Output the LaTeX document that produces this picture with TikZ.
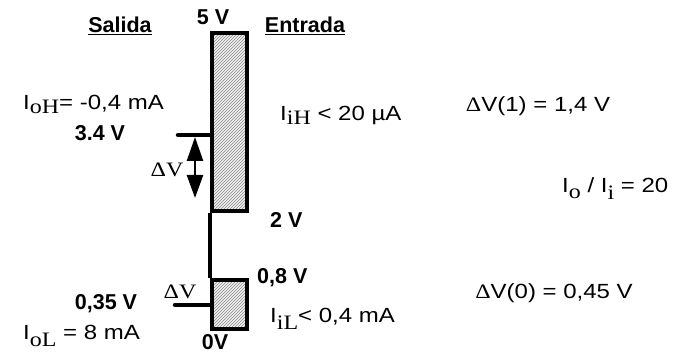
\documentclass[tikz,border=0pt]{standalone}
\usepackage{fontspec}
\setmainfont{Liberation Sans}
\newfontfamily\tms{Liberation Serif}
\usetikzlibrary{arrows.meta,patterns}
\newcommand\sub[2]{\raisebox{-#1pt}{\tms #2}}
\begin{document}
\begin{tikzpicture}[x=1pt,y=1pt,
  bar/.style={draw,line width=4pt,preaction={fill=gray!12},pattern=north east lines,pattern color=gray!90,inner sep=0pt,minimum width=35pt},
  wire/.style={line width=4pt},
  stub/.style={line width=4.5pt,line cap=round},
  txt/.style={inner sep=0pt,font=\fontsize{20.5}{24}\selectfont,xscale=1.17,transform shape},
  btxt/.style={inner sep=0pt,font=\fontsize{21.5}{25}\selectfont\bfseries}]
\useasboundingbox (0,0) rectangle (684,-355);
% bars
\node[bar,minimum height=177.5pt] (hi) at (229.5,-122) {};
\node[bar,minimum height=49pt] (lo) at (229.5,-304.5) {};
\draw[wire] (hi.south west) -- (lo.north west);
% stubs
\coordinate (s1) at (178,-135);
\coordinate (s2) at (175,-305);
\draw[stub] (s1) -- (s1 -| hi.west);
\draw[stub] (s2) -- (s2 -| lo.west);
% delta V arrow
\coordinate (a1) at (195,-137);
\coordinate (a2) at (195,-198);
\draw[line width=2.5pt,{Triangle[length=24pt,width=16pt]}-{Triangle[length=23pt,width=16pt]}] (a1) -- (a2);
% labels
\node[btxt,anchor=base] (sal) at (120,-33) {\underline{Salida}};
\node[btxt,anchor=base] (v5) at (213,-25) {5 V};
\node[btxt,anchor=base] (ent) at (305,-33) {\underline{Entrada}};
\node[txt,anchor=base west] (ioh) at (23,-110) {I\sub{3.5}{oH}= -0,4 mA};
\node[btxt,anchor=base] (v34) at (100,-141) {3.4 V};
\node[txt,anchor=base] (dv1) at (167,-177) {\tms ΔV};
\node[txt,anchor=base west] (iih) at (280,-121) {I\sub{4}{iH} < 20 µA};
\node[btxt,anchor=base west] (v2) at (270,-227) {2 V};
\node[btxt,anchor=base west] (v08) at (257,-283) {0,8 V};
\node[txt,anchor=base] (dv2) at (180,-298) {\tms ΔV};
\node[btxt,anchor=base] (v035) at (106,-309) {0,35 V};
\node[txt,anchor=base west] (iol) at (23,-339) {I\sub{7}{oL} = 8 mA};
\node[txt,anchor=base west] (iil) at (270,-322) {I\sub{7}{iL}< 0,4 mA};
\node[btxt,anchor=base] (v0) at (215,-349.5) {0V};
\node[txt,anchor=base] (d1) at (538,-112) {{\tms Δ}V(1) = 1,4 V};
\node[txt,anchor=base west] (ratio) at (562,-193) {I\sub{6}{o} / I\sub{7}{i} = 20};
\node[txt,anchor=base] (d0) at (554,-298) {{\tms Δ}V(0) = 0,45 V};
\end{tikzpicture}
\end{document}
